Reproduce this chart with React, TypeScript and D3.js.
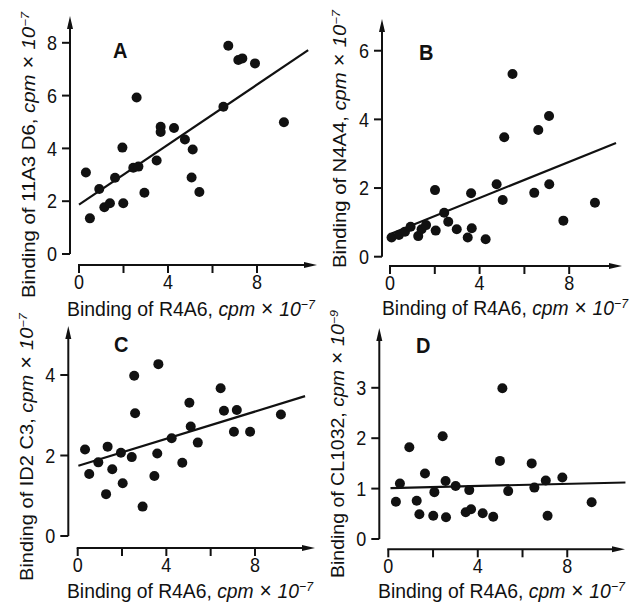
import React from "react";
import * as d3 from "d3";

// ---------- DATA ----------
const xTickValues = [0, 2, 4, 6, 8];
const xTickLabels = ["0", "4", "8"];

const aX = [0.31, 0.49, 0.91, 1.14, 1.39, 1.62, 1.95, 1.99, 2.44, 2.67, 2.59, 2.94, 3.49, 3.67, 3.67, 4.27, 4.76, 5.11, 5.06, 5.41, 6.49, 6.71, 7.16, 7.34, 7.91, 9.21];
const aY = [3.09, 1.35, 2.46, 1.77, 1.92, 2.89, 4.03, 1.92, 3.27, 3.31, 5.93, 2.32, 3.54, 4.82, 4.62, 4.77, 4.34, 3.96, 2.9, 2.35, 5.58, 7.89, 7.35, 7.41, 7.22, 4.99];

const bX = [0.07, 0.4, 0.67, 0.92, 1.26, 1.41, 1.61, 2.01, 2.04, 2.42, 2.6, 2.98, 3.47, 3.65, 3.62, 4.27, 4.76, 5.03, 5.1, 5.47, 6.44, 6.62, 7.11, 7.1, 7.74, 9.15];
const bY = [0.56, 0.63, 0.73, 0.87, 0.6, 0.8, 0.92, 1.94, 0.76, 1.28, 1.02, 0.8, 0.56, 0.83, 1.85, 0.51, 2.11, 1.65, 3.48, 5.32, 1.86, 3.69, 2.11, 4.1, 1.05, 1.57];

const cX = [0.33, 0.52, 0.93, 1.35, 1.28, 1.56, 1.95, 2.03, 2.44, 2.55, 2.59, 2.93, 3.46, 3.64, 3.59, 4.24, 4.72, 5.04, 5.1, 5.42, 6.45, 6.6, 7.18, 7.05, 7.78, 9.17];
const cY = [2.15, 1.54, 1.83, 2.22, 1.04, 1.66, 2.07, 1.31, 1.96, 3.98, 3.05, 0.73, 1.49, 4.27, 2.05, 2.43, 1.82, 3.31, 2.72, 2.32, 3.67, 3.11, 3.13, 2.59, 2.59, 3.02];

const dX = [0.34, 0.52, 0.94, 1.27, 1.39, 1.64, 2.06, 2.01, 2.43, 2.56, 2.58, 3.01, 3.46, 3.62, 3.7, 4.22, 4.69, 4.99, 5.1, 5.36, 6.41, 6.53, 7.04, 7.12, 7.78, 9.09];
const dY = [0.74, 1.1, 1.82, 0.76, 0.49, 1.3, 0.93, 0.46, 2.04, 1.15, 0.43, 1.05, 0.53, 0.97, 0.59, 0.51, 0.44, 1.55, 2.99, 0.95, 1.5, 1.02, 1.16, 0.46, 1.22, 0.73];

// fitted lines: intercept, slope, x-start, x-end
const fitA = [1.87, 0.568, 0.0, 10.3];
const fitB = [0.66, 0.263, 0.07, 10.09];
const fitC = [1.74, 0.169, 0.03, 10.26];
const fitD = [1.01, 0.0105, 0.1, 10.6];

const panelLetters = ["A", "B", "C", "D"];
const yNames = ["11A3 D6", "N4A4", "ID2 C3", "CL1032"];
const yExponents = ["7", "7", "7", "9"];
const yTickSets = [[0, 2, 4, 6, 8], [0, 2, 4, 6], [0, 2, 4], [0, 1, 2, 3]];
const xName = "R4A6";
const xExponent = "7";

// ---------- LAYOUT ----------
const layouts = [
  { x0: 79, xUnit: 22.25, xEnd: 317, xAxisY: 265, yAxisX: 70, y0: 254, yUnit: 26.4, yTopPx: 16,
    title: [113, 58], xl: [67, 316, 248], yl: [35, 298, 286] },
  { x0: 390, xUnit: 22.4, xEnd: 622, xAxisY: 266, yAxisX: 382, y0: 256.7, yUnit: 34.33, yTopPx: 19,
    title: [419, 60], xl: [382, 315, 246], yl: [346, 268, 258] },
  { x0: 77.7, xUnit: 22.16, xEnd: 315, xAxisY: 548, yAxisX: 68.3, y0: 536, yUnit: 40.25, yTopPx: 326,
    title: [114, 352], xl: [67, 598, 246], yl: [33, 581, 268] },
  { x0: 388.3, xUnit: 22.37, xEnd: 625, xAxisY: 549.3, yAxisX: 379.3, y0: 539, yUnit: 50.4, yTopPx: 328,
    title: [416, 353], xl: [378, 598, 247], yl: [344, 578, 268] },
];

const FONT = "'Liberation Sans', Arial, Helvetica, sans-serif";
const INK = "#111";

function Label({ name, exp }: { name: string; exp: string }) {
  return (
    <>
      {`Binding of ${name}, `}
      <tspan fontStyle="italic">cpm</tspan>
      <tspan fontSize={19.5}>{" \u00d7 "}</tspan>
      <tspan fontStyle="italic">10</tspan>
      <tspan fontStyle="italic" fontSize={11.5} dy={-6}>{`\u2212${exp}`}</tspan>
    </>
  );
}

function Panel({ idx, xs, ys, fit }: { idx: number; xs: number[]; ys: number[]; fit: number[] }) {
  const L = layouts[idx];
  const xMaxVal = (L.xEnd - L.x0) / L.xUnit;
  const x = d3.scaleLinear().domain([0, xMaxVal]).range([L.x0, L.xEnd]);
  const yMaxVal = (L.y0 - L.yTopPx) / L.yUnit;
  const y = d3.scaleLinear().domain([0, yMaxVal]).range([L.y0, L.yTopPx]);
  const pts = xs.map((v, i) => [v, ys[i]] as [number, number]);
  const [b0, b1, xa, xb] = fit;
  const line = d3.line<number>().x((v) => x(v)).y((v) => y(b0 + b1 * v));
  const yTicks = yTickSets[idx];
  const ax = L.yAxisX;
  const ay = L.xAxisY;
  return (
    <g>
      {/* y axis */}
      <line x1={ax} x2={ax} y1={y(0)} y2={L.yTopPx + 8} stroke={INK} strokeWidth={2} />
      <path d={`M${ax},${L.yTopPx} L${ax - 3},${L.yTopPx + 13} L${ax + 3},${L.yTopPx + 13} Z`} fill={INK} />
      {yTicks.map((t) => (
        <g key={"yt" + t}>
          <line x1={ax - 8} x2={ax} y1={y(t)} y2={y(t)} stroke={INK} strokeWidth={2} />
          <text transform={`translate(${ax - 13},${y(t) + 7.2}) scale(1,1.15)`} textAnchor="end"
            fontFamily={FONT} fontSize={18} fill={INK}>{t}</text>
        </g>
      ))}
      {/* x axis */}
      <line x1={x(0) - 1} x2={L.xEnd - 8} y1={ay} y2={ay} stroke={INK} strokeWidth={2} />
      <path d={`M${L.xEnd},${ay} L${L.xEnd - 13},${ay - 3} L${L.xEnd - 13},${ay + 3} Z`} fill={INK} />
      {xTickValues.map((t) => (
        <line key={"xt" + t} x1={x(t)} x2={x(t)} y1={ay} y2={ay + 8} stroke={INK} strokeWidth={2} />
      ))}
      {xTickLabels.map((t) => (
        <text key={"xl" + t} transform={`translate(${x(+t)},${ay + 24}) scale(1,1.15)`} textAnchor="middle"
          fontFamily={FONT} fontSize={18} fill={INK}>{t}</text>
      ))}
      {/* fit line */}
      <path d={line([xa, xb]) || ""} stroke={INK} strokeWidth={2.2} fill="none" />
      {/* points */}
      {pts.map((p, i) => (
        <circle key={i} cx={x(p[0])} cy={y(p[1])} r={5} fill={INK} />
      ))}
      {/* title */}
      <text transform={`translate(${L.title[0]},${L.title[1]}) scale(1,1.1)`} fontFamily={FONT}
        fontWeight="bold" fontSize={20} fill={INK}>{panelLetters[idx]}</text>
      {/* x label */}
      <text transform={`translate(${L.xl[0]},${L.xl[1]}) scale(1,1.15)`} fontFamily={FONT} fontSize={18}
        fill={INK} textLength={L.xl[2]} lengthAdjust="spacingAndGlyphs">
        <Label name={xName} exp={xExponent} />
      </text>
      {/* y label */}
      <text transform={`translate(${L.yl[0]},${L.yl[1]}) rotate(-90)`} fontFamily={FONT} fontSize={18}
        fill={INK} textLength={L.yl[2]} lengthAdjust="spacingAndGlyphs">
        <Label name={yNames[idx]} exp={yExponents[idx]} />
      </text>
    </g>
  );
}

export default function App() {
  return (
    <svg width={643} height={606} style={{ position: "absolute", left: 0, top: 0, background: "#fff" }}>
      <rect width={643} height={606} fill="#fff" />
      <Panel idx={0} xs={aX} ys={aY} fit={fitA} />
      <Panel idx={1} xs={bX} ys={bY} fit={fitB} />
      <Panel idx={2} xs={cX} ys={cY} fit={fitC} />
      <Panel idx={3} xs={dX} ys={dY} fit={fitD} />
    </svg>
  );
}
